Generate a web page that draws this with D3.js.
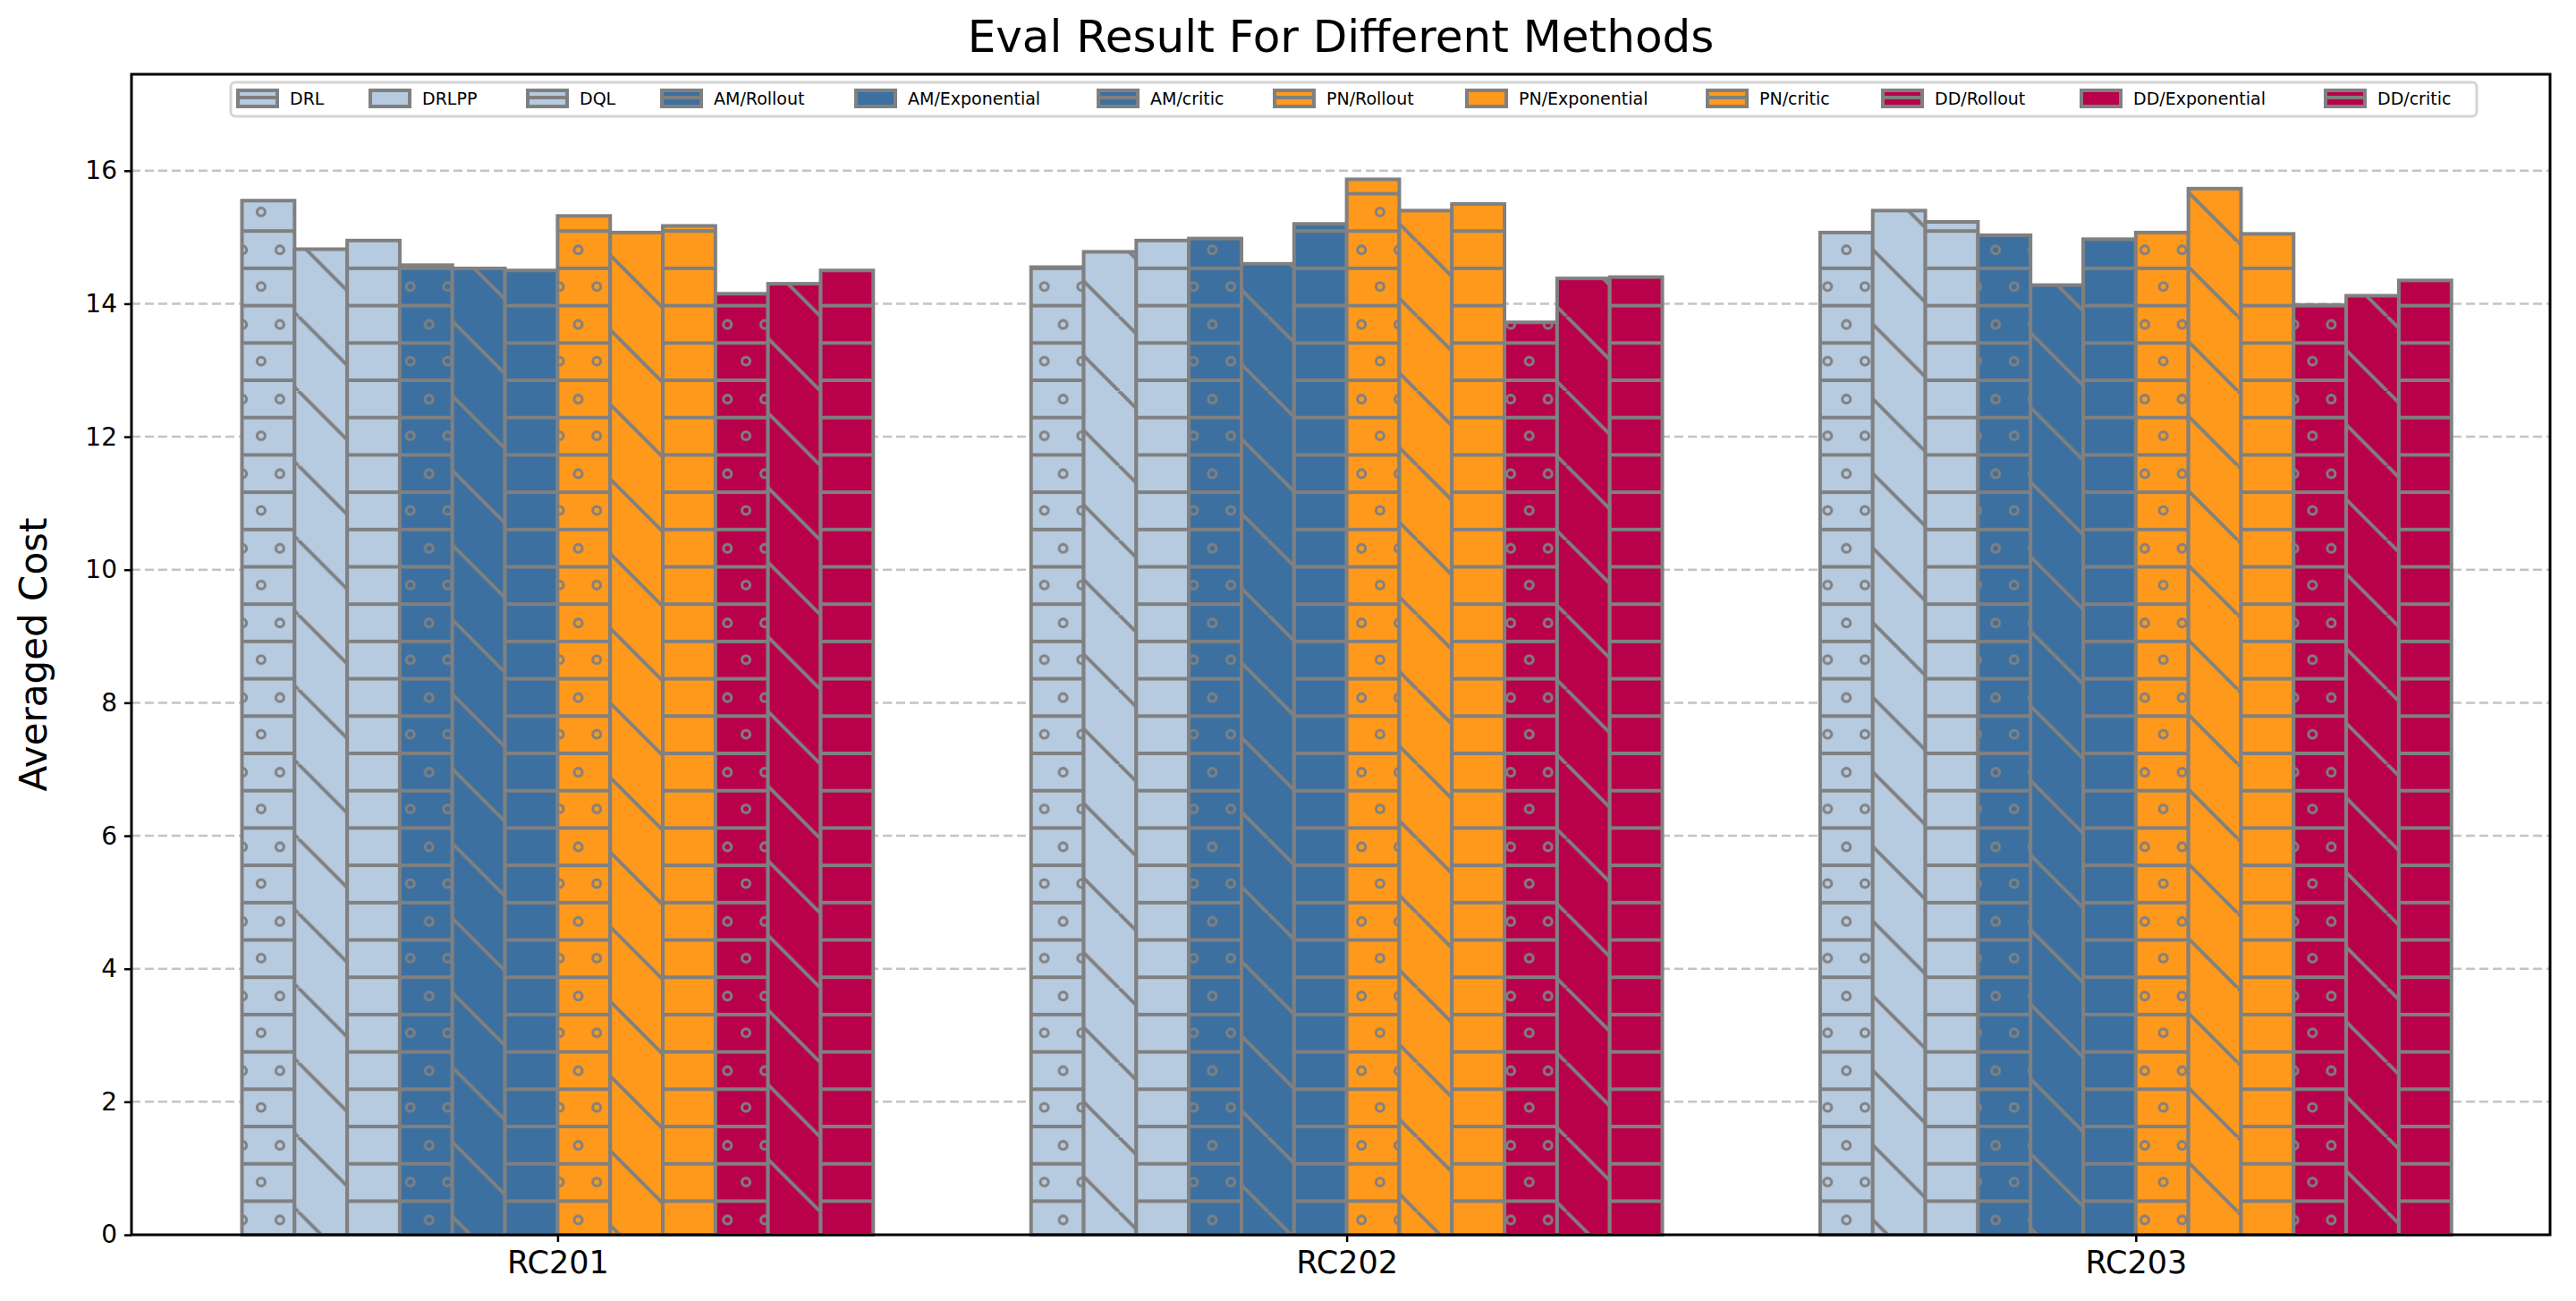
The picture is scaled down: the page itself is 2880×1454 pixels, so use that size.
<!DOCTYPE html>
<html><head><meta charset="utf-8">
<script src="https://cdn.jsdelivr.net/npm/d3@7"></script>
<style>body{margin:0;background:#fff}</style></head>
<body><svg id="c" width="2880" height="1454"></svg>
<script>
const categories = ["RC201","RC202","RC203"];
const methods = ["DRL","DRLPP","DQL","AM/Rollout","AM/Exponential","AM/critic","PN/Rollout","PN/Exponential","PN/critic","DD/Rollout","DD/Exponential","DD/critic"];
const values = [
  [15.55,14.55,15.07],
  [14.82,14.78,15.40],
  [14.95,14.95,15.23],
  [14.58,14.98,15.03],
  [14.53,14.60,14.28],
  [14.50,15.20,14.97],
  [15.32,15.87,15.07],
  [15.07,15.40,15.73],
  [15.17,15.50,15.05],
  [14.15,13.72,13.98],
  [14.30,14.38,14.12],
  [14.50,14.40,14.35]
];
const yTicks = [0,2,4,6,8,10,12,14,16];
const colors = ["#b6cae0","#b6cae0","#b6cae0","#3c70a0","#3c70a0","#3c70a0","#ff991c","#ff991c","#ff991c","#b8004b","#b8004b","#b8004b"];
const hatches = ["o","\\","-"];

const svg = d3.select("#c");
const L=147,R=2851,T=83,B=1380;
const x = d3.scaleLinear().domain([-0.54,2.525]).range([L,R]);
const y = d3.scaleLinear().domain([0,17.45]).range([B,T]);
const bw = 0.8/12;

const defs = svg.append("defs");
const grey="#808080";
function mk(id,color,h){
  if(h==="o"){
    const p=defs.append("pattern").attr("id",id).attr("patternUnits","userSpaceOnUse").attr("width",41.7).attr("height",83.4).attr("y",8);
    p.append("rect").attr("width",41.7).attr("height",83.4).attr("fill",color);
    [0,41.7].forEach(v=>p.append("rect").attr("x",0).attr("y",v-2).attr("width",41.7).attr("height",4).attr("fill",grey));
    p.append("rect").attr("x",0).attr("y",81.4).attr("width",41.7).attr("height",4).attr("fill",grey);
    [[21,21],[0,62],[41.7,62]].forEach(c=>p.append("circle").attr("cx",c[0]).attr("cy",c[1]).attr("r",4.5).attr("fill","none").attr("stroke",grey).attr("stroke-width",3));
  } else if(h==="-"){
    const p=defs.append("pattern").attr("id",id).attr("patternUnits","userSpaceOnUse").attr("width",41.7).attr("height",41.7).attr("y",8);
    p.append("rect").attr("width",41.7).attr("height",41.7).attr("fill",color);
    p.append("rect").attr("y",-2).attr("width",41.7).attr("height",4).attr("fill",grey);
    p.append("rect").attr("y",39.7).attr("width",41.7).attr("height",4).attr("fill",grey);
  } else {
    const s=83.4;
    const p=defs.append("pattern").attr("id",id).attr("patternUnits","userSpaceOnUse").attr("width",s).attr("height",s).attr("y",20);
    p.append("rect").attr("width",s).attr("height",s).attr("fill",color);
    [[-s,-s],[0,0],[s,s]].forEach(o=>{}); 
    [-s,0,s].forEach(o=>p.append("line").attr("x1",o).attr("y1",0).attr("x2",o+s).attr("y2",s).attr("stroke",grey).attr("stroke-width",4));
  }
}
methods.forEach((m,i)=>mk("p"+i,colors[i],hatches[i%3]));

// grid
svg.append("g").selectAll("line").data(yTicks.filter(d=>d>0)).join("line")
  .attr("x1",L).attr("x2",R).attr("y1",d=>y(d)).attr("y2",d=>y(d))
  .attr("stroke","#c4c4c4").attr("stroke-width",2.5).attr("stroke-dasharray","10,5");

// bars
methods.forEach((m,i)=>{
  svg.append("g").selectAll("rect").data(values[i]).join("rect")
    .attr("x",(d,j)=>x(j-0.4+i*bw)).attr("width",x(bw)-x(0))
    .attr("y",d=>y(d)).attr("height",d=>y(0)-y(d))
    .attr("fill","url(#p"+i+")").attr("stroke",grey).attr("stroke-width",4);
});

// axes
const ya=svg.append("g").attr("transform",`translate(${L},0)`).call(d3.axisLeft(y).tickValues(yTicks).tickSize(8).tickPadding(8));
ya.selectAll("text").attr("font-size",28).attr("font-family","DejaVu Sans").attr("fill","#000");
ya.selectAll("line").attr("stroke-width",2.5);
ya.select(".domain").remove();
const xa=svg.append("g").attr("transform",`translate(0,${B})`).call(d3.axisBottom(x).tickValues([0,1,2]).tickFormat(i=>categories[i]).tickSize(8).tickPadding(10));
xa.selectAll("text").attr("font-size",35).attr("font-family","DejaVu Sans").attr("fill","#000");
xa.selectAll("line").attr("stroke-width",2.5);
xa.select(".domain").remove();
svg.append("rect").attr("x",L).attr("y",T).attr("width",R-L).attr("height",B-T).attr("fill","none").attr("stroke","#000").attr("stroke-width",3);

svg.append("text").attr("x",(L+R)/2).attr("y",58).attr("text-anchor","middle").attr("font-family","DejaVu Sans").attr("font-size",50).text("Eval Result For Different Methods");
svg.append("text").attr("transform",`translate(52,${(T+B)/2}) rotate(-90)`).attr("text-anchor","middle").attr("font-family","DejaVu Sans").attr("font-size",42).text("Averaged Cost");

// legend
const lx=[266,414,590,740,957,1228,1425,1640,1909,2105,2327,2600];
svg.append("rect").attr("x",258).attr("y",92).attr("width",2511).attr("height",38).attr("rx",5).attr("fill","#fff").attr("stroke","#d4d4d4").attr("stroke-width",3);
const lg=svg.append("g").selectAll("g").data(methods).join("g").attr("transform",(d,i)=>`translate(${lx[i]},101)`);
lg.append("rect").attr("width",44).attr("height",18).attr("fill",(d,i)=>"url(#p"+i+")").attr("stroke",grey).attr("stroke-width",4);
lg.append("text").attr("x",58).attr("y",16).attr("font-family","DejaVu Sans").attr("font-size",19).text(d=>d);
</script></body></html>
